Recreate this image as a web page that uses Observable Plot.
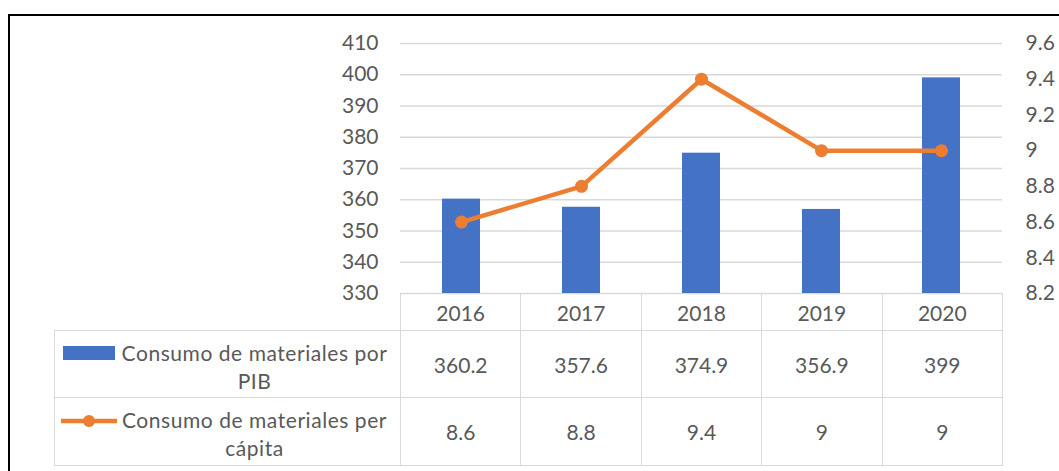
<!DOCTYPE html>
<html><head><meta charset="utf-8">
<script src="https://cdn.jsdelivr.net/npm/d3@7"></script>
<script src="https://cdn.jsdelivr.net/npm/@observablehq/plot@0.6"></script>
<style>
body{margin:0;overflow:hidden;background:#fff;font-family:Lato, sans-serif;}
#wrap{position:relative;width:1059px;height:471px;overflow:hidden;background:#fff;}
#frame{position:absolute;left:8px;top:14px;width:1200px;height:600px;border:2px solid #000;box-sizing:border-box;}
#chart{position:absolute;left:0;top:0;}
#tbl{position:absolute;left:54px;top:293px;border-collapse:collapse;table-layout:fixed;color:#595959;font-size:21px;width:948px;}
#tbl td{border:1.5px solid #d9d9d9;text-align:center;padding:0;}
#tbl td.empty{border:none;}
.leg{display:flex;align-items:flex-start;height:100%;}
.leg .txt{flex:1;line-height:28px;text-align:center;padding-right:10px;letter-spacing:0.55px;}
</style></head>
<body><div id="wrap"><div id="frame"></div><div id="chart"></div><table id="tbl"></table></div>
<script>
const years = ["2016", "2017", "2018", "2019", "2020"];
const pibValues = [360.2, 357.6, 374.9, 356.9, 399];
const perCapitaValues = [8.6, 8.8, 9.4, 9, 9];
const seriesNames = ["Consumo de materiales por PIB", "Consumo de materiales per cápita"];
const leftTicks = [330, 340, 350, 360, 370, 380, 390, 400, 410];
const rightTicks = [8.2, 8.4, 8.6, 8.8, 9.0, 9.2, 9.4, 9.6];
const rightTickLabels = ["8.2", "8.4", "8.6", "8.8", "9", "9.2", "9.4", "9.6"];
const pibLabels = ["360.2", "357.6", "374.9", "356.9", "399"];
const perCapitaLabels = ["8.6", "8.8", "9.4", "9", "9"];

const blue = "#4472C4", orange = "#ED7D31", grid = "#d9d9d9", textColor = "#595959";
const leftMin = leftTicks[0], leftMax = leftTicks[leftTicks.length - 1];
const rightMin = rightTicks[0], rightMax = rightTicks[rightTicks.length - 1];
const toLeft = v => leftMin + (v - rightMin) / (rightMax - rightMin) * (leftMax - leftMin);
const rightLabelMap = new Map(rightTicks.map((t, i) => [Math.round(toLeft(t) * 1000), rightTickLabels[i]]));

const data = years.map((y, i) => ({year: y, pib: pibValues[i], pc: toLeft(perCapitaValues[i])}));

const chart = Plot.plot({
  width: 1059, height: 300,
  marginTop: 43, marginBottom: 7, marginLeft: 400, marginRight: 57,
  style: {fontFamily: "Lato, sans-serif", fontSize: "21px", color: textColor, background: "transparent", overflow: "visible"},
  x: {type: "band", domain: years, paddingInner: 0, paddingOuter: 0, axis: null},
  y: {domain: [leftMin, leftMax], axis: null},
  marks: [
    Plot.ruleY(leftTicks, {stroke: grid, strokeWidth: 1.5}),
    Plot.barY(data, {x: "year", y1: leftMin, y2: "pib", fill: blue, insetLeft: 41, insetRight: 41}),
    Plot.line(data, {x: "year", y: "pc", stroke: orange, strokeWidth: 4.5, strokeLinejoin: "round", strokeLinecap: "round"}),
    Plot.dot(data, {x: "year", y: "pc", r: 6.5, fill: orange}),
    Plot.axisY(leftTicks, {anchor: "left", tickSize: 0, tickPadding: 22, tickFormat: d => String(d), color: textColor, fontSize: 21}),
    Plot.axisY(rightTicks.map(toLeft), {anchor: "right", tickSize: 0, tickPadding: 23, tickFormat: d => rightLabelMap.get(Math.round(d * 1000)), color: textColor, fontSize: 21})
  ]
});
document.getElementById("chart").appendChild(chart);

// data table with legend keys
const tbl = document.getElementById("tbl");
const cg = document.createElement("colgroup");
cg.innerHTML = `<col style="width:346px">` + years.map(() => `<col style="width:120.4px">`).join("");
tbl.appendChild(cg);
const r0 = tbl.insertRow();
r0.style.height = "37px";
const e = r0.insertCell(); e.className = "empty";
years.forEach(y => { const c = r0.insertCell(); c.textContent = y; });

const swatches = [
  `<svg width="56" height="14" style="margin-left:8px;margin-top:12px;flex:none"><rect x="0" y="0" width="52" height="14" fill="${blue}"/></svg>`,
  `<svg width="58" height="16" style="margin-left:6px;margin-top:12px;flex:none"><line x1="0" y1="8" x2="56" y2="8" stroke="${orange}" stroke-width="4.5"/><circle cx="28" cy="8" r="6" fill="${orange}"/></svg>`
];
const legendLines = [["Consumo de materiales por", "PIB"], ["Consumo de materiales per", "cápita"]];
const rowLabels = [pibLabels, perCapitaLabels];
const rowHeights = [67, 68];
rowLabels.forEach((labels, k) => {
  const r = tbl.insertRow();
  r.style.height = rowHeights[k] + "px";
  const lc = r.insertCell();
  lc.innerHTML = `<div class="leg">${swatches[k]}<div class="txt" style="padding-top:5px">${legendLines[k].join("<br>")}</div></div>`;
  labels.forEach(v => { const c = r.insertCell(); c.textContent = v; });
});
</script>
</body></html>
